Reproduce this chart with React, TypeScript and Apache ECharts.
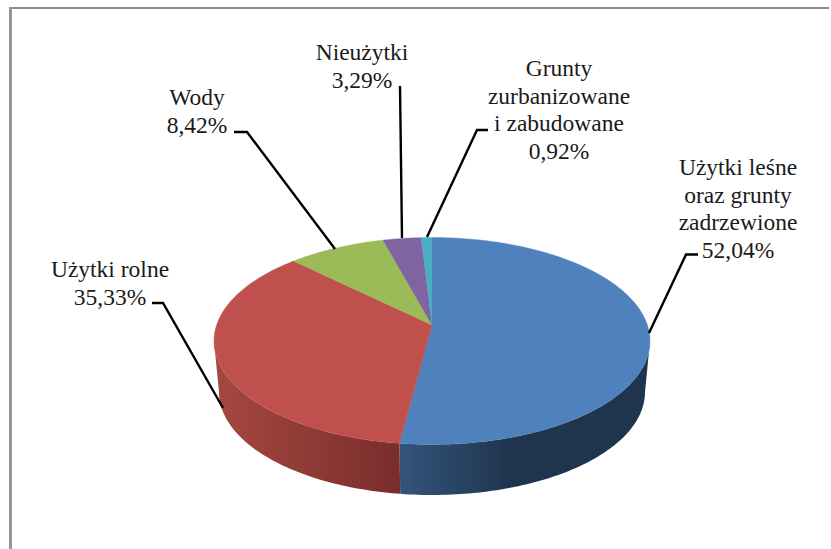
import React, { useEffect, useRef } from "react";
import * as echarts from "echarts";

// Clockwise from 12 o'clock
const categories = [
  "Użytki leśne\noraz grunty\nzadrzewione",
  "Użytki rolne",
  "Wody",
  "Nieużytki",
  "Grunty\nzurbanizowane\ni zabudowane",
];
const percentLabels = ["52,04%", "35,33%", "8,42%", "3,29%", "0,92%"];
const values = [52.04, 35.33, 8.42, 3.29, 0.92];

const topColors = ["#4f81bd", "#c0504d", "#9bbb59", "#8064a2", "#4bacc6"];
const wallStops = [
  [
    { offset: 0, color: "#34557a" },
    { offset: 0.45, color: "#1f344d" },
    { offset: 1, color: "#1f344d" },
  ],
  [
    { offset: 0, color: "#a5483f" },
    { offset: 1, color: "#7a2d2c" },
  ],
  [{ offset: 0, color: "#7d9748" }, { offset: 1, color: "#7d9748" }],
  [{ offset: 0, color: "#665082" }, { offset: 1, color: "#665082" }],
  [{ offset: 0, color: "#3b8aa0" }, { offset: 1, color: "#3b8aa0" }],
];

const labelCentres = [
  [738, 167],
  [110, 269],
  [197, 97],
  [362, 52],
  [559, 68],
];
const leaders = [
  [[649, 333], [686, 254.5], [698, 254.5]],
  [[223, 408], [163, 303], [152, 303]],
  [[335, 249], [247, 132], [234, 132]],
  [[402, 238], [400, 86]],
  [[427, 237], [477, 130], [488, 130]],
];

const TOP = { cx: 432, cy: 341, rx: 218, ry: 103.5 };
const BOTTOM = { cx: 432, cy: 392, rx: 213, ry: 103 };
const PERSPECTIVE = -0.155;
const TOTAL = values.reduce((a, b) => a + b, 0);

function project(theta: number, e: typeof TOP) {
  const x = Math.sin(theta);
  const y = -Math.cos(theta);
  const a = PERSPECTIVE;
  const d = 1 + a * y;
  return [e.cx + (e.rx * x * Math.sqrt(1 - a * a)) / d, e.cy + (e.ry * (y + a)) / d];
}

function arcPoints(from: number, to: number, e: typeof TOP) {
  const n = Math.max(2, Math.ceil(((to - from) * 180) / Math.PI));
  const pts: number[][] = [];
  for (let i = 0; i <= n; i++) pts.push(project(from + ((to - from) * i) / n, e));
  return pts;
}

const FRONT_START = Math.acos(PERSPECTIVE);
const FRONT_END = 2 * Math.PI - FRONT_START;

function renderSlice(params: any, api: any) {
  const idx = params.dataIndex as number;
  let before = 0;
  for (let i = 0; i < idx; i++) before += values[i];
  const start = (before / TOTAL) * 2 * Math.PI;
  const end = ((before + api.value(0)) / TOTAL) * 2 * Math.PI;
  const children: any[] = [];

  const from = Math.max(start, FRONT_START);
  const to = Math.min(end, FRONT_END);
  if (to > from) {
    const upper = arcPoints(from, to, TOP);
    const lower = arcPoints(from, to, BOTTOM).reverse();
    children.push({
      type: "polygon",
      shape: { points: upper.concat(lower) },
      style: {
        fill: new echarts.graphic.LinearGradient(0, 0, 1, 0, wallStops[idx]),
      },
    });
  }

  const apex = [TOP.cx, TOP.cy + TOP.ry * PERSPECTIVE];
  children.push({
    type: "polygon",
    shape: { points: [apex].concat(arcPoints(start, end, TOP)) },
    style: { fill: topColors[idx], stroke: topColors[idx], lineWidth: 0.4 },
  });
  return { type: "group", children };
}

export default function App() {
  const ref = useRef<HTMLDivElement>(null);
  useEffect(() => {
    document.body.style.margin = "0";
    const chart = echarts.init(ref.current!, null, { renderer: "svg" });
    const graphics: any[] = [
      { type: "rect", shape: { x: 9, y: 7, width: 820, height: 2 }, style: { fill: "#8c8c8c" } },
      { type: "rect", shape: { x: 9, y: 7, width: 3, height: 542 }, style: { fill: "#969696" } },
    ];
    leaders.forEach((pts) => {
      graphics.push({
        type: "polyline",
        z: 10,
        shape: { points: pts },
        style: { stroke: "#000", lineWidth: 2.4, fill: "none", lineJoin: "miter" },
      });
    });
    categories.forEach((c, i) => {
      graphics.push({
        type: "text",
        z: 11,
        x: labelCentres[i][0],
        y: labelCentres[i][1] - 14,
        style: {
          text: c + "\n" + percentLabels[i],
          fontFamily: "Liberation Serif",
          fontSize: 23.5,
          lineHeight: 27.7,
          fill: "#1a1a1a",
          align: "center",
          verticalAlign: "top",
        },
      });
    });
    chart.setOption({
      animation: false,
      backgroundColor: "#ffffff",
      graphic: { elements: graphics },
      series: [
        {
          type: "custom",
          coordinateSystem: "none",
          renderItem: renderSlice,
          silent: true,
          data: values.map((v) => [v]),
        },
      ],
    });
    return () => chart.dispose();
  }, []);
  return <div ref={ref} style={{ position: "fixed", left: 0, top: 0, width: 831, height: 549 }} />;
}
